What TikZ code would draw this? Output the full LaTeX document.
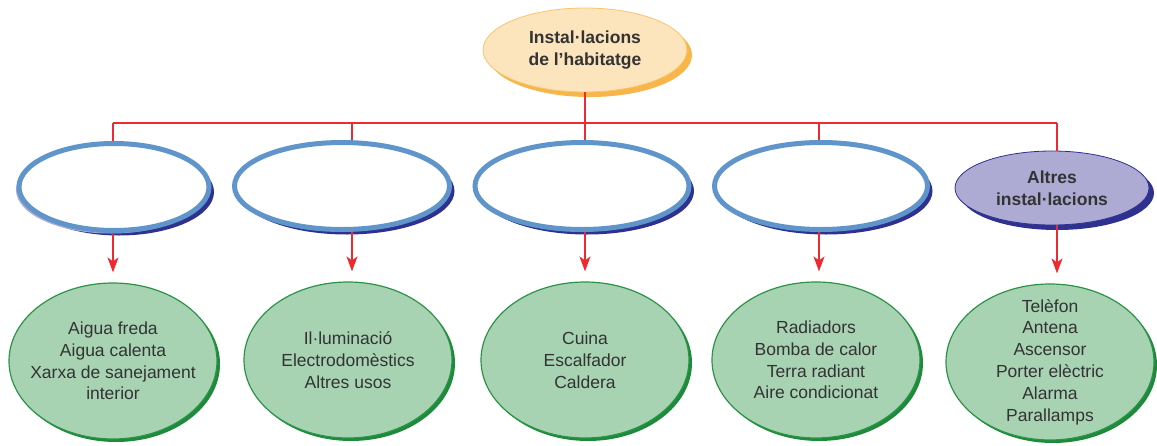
\documentclass[tikz,border=0pt]{standalone}
\usepackage{fontspec}
\setmainfont{Liberation Sans}
\usetikzlibrary{shapes.geometric,shadows,arrows.meta}
\definecolor{peach}{HTML}{FCE4BC}
\definecolor{peachedge}{HTML}{F9C56A}
\definecolor{orangeshadow}{HTML}{F7B54A}
\definecolor{ringblue}{HTML}{5F95CA}
\definecolor{navy}{HTML}{2E3190}
\definecolor{lavender}{HTML}{ADAAD3}
\definecolor{greenfill}{HTML}{A8D3B3}
\definecolor{greenedge}{HTML}{2A9446}
\definecolor{greenshadow}{HTML}{1E8A3C}
\definecolor{conred}{HTML}{EE2A31}
\definecolor{txtgray}{HTML}{333333}
\begin{document}
\begin{tikzpicture}[x=1pt,y=-1pt,
  txt/.style={font=\fontsize{17.5}{21.8}\selectfont, text=txtgray, align=center},
  btxt/.style={font=\fontsize{17.5}{21.8}\selectfont\bfseries, text=txtgray, align=center},
  topell/.style={ellipse, inner sep=0pt, fill=peach, draw=peachedge, line width=0.8pt,
    general shadow={fill=orangeshadow, shadow xshift=5pt, shadow yshift=-5pt},
    minimum width=204pt, minimum height=84pt},
  midell/.style={ellipse, inner sep=0pt, fill=white, draw=ringblue, line width=5pt,
    general shadow={fill=navy, shadow xshift=5pt, shadow yshift=-5pt},
    minimum height=87pt},
  othell/.style={ellipse, inner sep=0pt, fill=lavender, draw=navy, line width=0.8pt,
    general shadow={fill=navy, shadow xshift=5pt, shadow yshift=-5pt},
    minimum width=194pt, minimum height=74pt},
  greenell/.style={ellipse, inner sep=0pt, fill=greenfill, draw=greenedge, line width=1.2pt,
    general shadow={fill=greenshadow, shadow xshift=3pt, shadow yshift=-3pt},
    minimum width=208pt, minimum height=156pt},
  conn/.style={draw=conred, line width=1.6pt},
  arr/.style={draw=conred, line width=1.6pt, -{Stealth[length=15pt,width=11pt,inset=4pt]}, shorten >=10pt}
]
\useasboundingbox (0,0) rectangle (1157,445);

% top
\node[topell, label={[btxt]center:{Instal·lacions\\de l’habitatge}}] (t) at (585,50) {};

% middle
\node[midell, minimum width=190pt, general shadow={fill=lavender, shadow xshift=-3pt, shadow yshift=-3pt}] (m1) at (114,187) {};
\node[midell, minimum width=215pt] (m2) at (342,186) {};
\node[midell, minimum width=214pt] (m3) at (582,186) {};
\node[midell, minimum width=213pt] (m4) at (821,186) {};
\node[othell, label={[btxt]center:{Altres\\instal·lacions}}] (m5) at (1052,188) {};

% bottom
\node[greenell, label={[txt]center:{Aigua freda\\Aigua calenta\\Xarxa de sanejament\\interior}}] (g1) at (113,361) {};
\node[greenell, label={[txt]center:{Il·luminació\\Electrodomèstics\\Altres usos}}] (g2) at (348,360) {};
\node[greenell, label={[txt]center:{Cuina\\Escalfador\\Caldera}}] (g3) at (585,360) {};
\node[greenell, label={[txt]center:{Radiadors\\Bomba de calor\\Terra radiant\\Aire condicionat}}] (g4) at (816,360) {};
\node[greenell, label={[txt]center:{Telèfon\\Antena\\Ascensor\\Porter elèctric\\Alarma\\Parallamps}}] (g5) at (1050,362) {};

% bus
\coordinate (b1) at (113,123);
\coordinate (b2) at (352,123);
\coordinate (b3) at (585,123);
\coordinate (b4) at (819,123);
\coordinate (b5) at (1057,123);
\draw[conn] (t.south) -- (t.south |- b3);
\draw[conn] (b1) -- (b5);
\foreach \k in {1,...,5}{
  \draw[conn] (b\k) -- (b\k |- m\k.north);
  \draw[arr] (b\k |- m\k.south) -- (b\k |- g\k.north);
}
\end{tikzpicture}
\end{document}
